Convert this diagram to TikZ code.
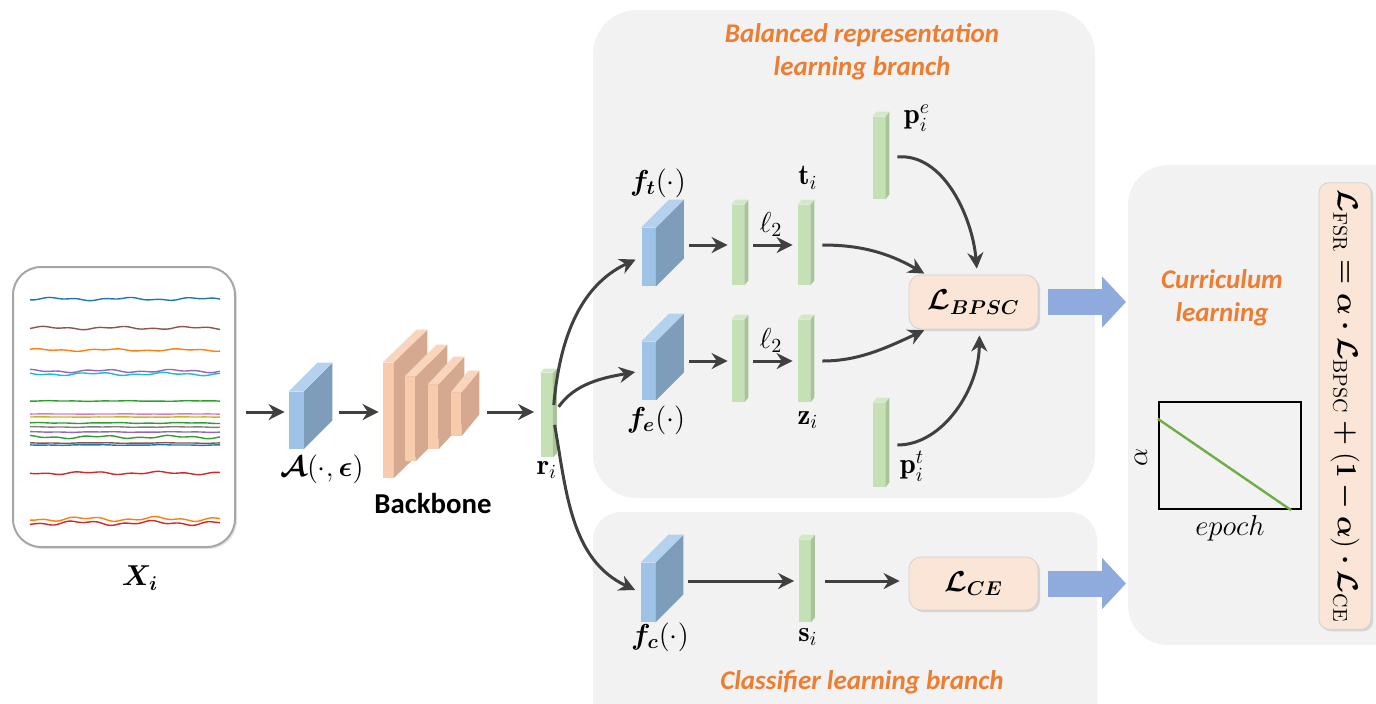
\documentclass[tikz,border=0pt]{standalone}
\usepackage{fontspec}
\setsansfont{Carlito}
\usepackage{amsmath,amssymb}
\usepackage{bm}
\usepackage{tikz}
\usetikzlibrary{positioning}
\usetikzlibrary{calc,shadows}
\usetikzlibrary{arrows.meta}
\tikzset{>=stealth}
\definecolor{arrowgray}{HTML}{404040}
\definecolor{panelgray}{HTML}{F2F2F2}
\definecolor{bluefront}{HTML}{9DC3E6}
\definecolor{blueside}{HTML}{7D9DBA}
\definecolor{bluetop}{HTML}{B4D2EE}
\definecolor{orfront}{HTML}{F8CBAD}
\definecolor{orside}{HTML}{D5A98F}
\definecolor{ortop}{HTML}{F9D5BD}
\definecolor{grfront}{HTML}{C5E0B4}
\definecolor{grside}{HTML}{A8C599}
\definecolor{grtop}{HTML}{D3E8C6}
\definecolor{lossfill}{HTML}{FBE5D6}
\definecolor{titleorange}{HTML}{ED7D31}
\definecolor{bigblue}{HTML}{8FAADC}
\definecolor{alphagreen}{HTML}{70AD47}
\definecolor{sblue}{HTML}{1F77B4}
\definecolor{sbrown}{HTML}{8C564B}
\definecolor{sorange}{HTML}{FF7F0E}
\definecolor{spurple}{HTML}{9467BD}
\definecolor{scyan}{HTML}{17BECF}
\definecolor{sgreen}{HTML}{2CA02C}
\definecolor{spink}{HTML}{E377C2}
\definecolor{solive}{HTML}{BCBD22}
\definecolor{sred}{HTML}{D62728}
\definecolor{sgray}{HTML}{7F7F7F}
% side and top faces of a 3d block: node, dx, dy, side, top
\newcommand{\blockdepth}[5]{%
  \fill[#4] (#1.north east) -- ++(#2,-#3) -- ($(#1.south east)+(#2,-#3)$) -- (#1.south east) -- cycle;
  \fill[#5] (#1.north west) -- ++(#2,-#3) -- ($(#1.north east)+(#2,-#3)$) -- (#1.north east) -- cycle;}

\begin{document}
\begin{tikzpicture}[x=0.5pt,y=-0.5pt,
  line/.style={draw=arrowgray, line width=1.5pt, -{Stealth[length=8pt,width=8pt]}},
  bigarrow/.style={draw=bigblue, line width=13pt, -{Triangle[length=12pt,width=25pt]}},
  greenbar/.style={fill=grfront, minimum width=6pt, inner sep=0pt},
  blueface/.style={fill=bluefront, minimum width=7pt, inner sep=0pt},
  orangeface/.style={fill=orfront, minimum width=5pt, inner sep=0pt},
  lossbox/.style={draw=gray!35, fill=lossfill, rounded corners=6pt, minimum width=64.5pt,
    minimum height=27pt, drop shadow={opacity=0.25,shadow xshift=1pt,shadow yshift=-1pt}},
  title/.style={text=titleorange, font=\sffamily\bfseries\itshape\fontsize{13.5}{16.5}\selectfont, align=center},
  lab/.style={font=\Large}]

\useasboundingbox (0,0) rectangle (1376,703);

%% panels
\fill[panelgray, rounded corners=22pt] (593,10) rectangle (1095,498);
\fill[panelgray, rounded corners=14pt] (593,512) rectangle (1097,730);
\fill[panelgray, rounded corners=20pt] (1128,165) rectangle (1420,645);
\coordinate (cpanelW) at (1126,300);
\coordinate (flow) at (0,412);

%% input series
\node[draw=gray!70, line width=1pt, fill=white, rounded corners=14pt, minimum width=111pt,
  minimum height=140pt, drop shadow={opacity=0.2,shadow xshift=1pt,shadow yshift=-1pt}] (xbox) at (124,407) {};
\foreach \yy/\cc/\aa/\ph in {299/sblue/1.0/0, 328/sbrown/1.0/40, 350/sorange/0.8/80,
  371/spurple/1.0/120, 374/scyan/1.0/160, 401/sgreen/0.2/10, 414/spink/0.1/30,
  417/solive/0.1/50, 423/sgreen/0.3/70, 427/sgray/0.2/90, 432/spurple/0.2/110,
  437/sgreen/1.0/130, 443/sbrown/0.2/150, 445/sblue/0.2/170, 473/sred/1.0/190,
  519/sorange/1.5/210, 523/sred/1.5/230}
  \draw[\cc, line width=0.7pt] plot[domain=30:220, samples=40, smooth]
    (\x, {\yy + \aa*(sin(\x*5+\ph) + 0.7*sin(\x*13+2*\ph))});
\node[lab] (xlab) at (140,578) {$\bm{X_i}$};

%% augmentation
\node[blueface, minimum height=28.5pt] (aface) at (296,420.5) {};
\blockdepth{aface}{29}{29}{blueside}{bluetop}
\node[lab] (alab) at (322,469) {$\bm{\mathcal{A}}(\cdot,\bm{\epsilon})$};

%% backbone
\node[orangeface, minimum height=57.5pt] (bb1) at (388,420.5) {};
\blockdepth{bb1}{34}{33}{orside}{ortop}
\node[orangeface, minimum height=42pt] (bb2) at (410,419) {};
\blockdepth{bb2}{32}{32}{orside}{ortop}
\node[orangeface, minimum height=32pt] (bb3) at (433,417) {};
\blockdepth{bb3}{26}{28}{orside}{ortop}
\node[orangeface, minimum height=21.5pt] (bb4) at (456,414.5) {};
\blockdepth{bb4}{18}{22}{orside}{ortop}
\node[font=\sffamily\bfseries\Large] (bblab) at (433,503) {Backbone};

%% representation
\node[greenbar, minimum height=42pt] (ri) at (546.5,415) {};
\blockdepth{ri}{4}{4}{grside}{grtop}
\node[lab] (rilab) at (547,470) {$\mathbf{r}_i$};

\path[line, shorten <=5pt, shorten >=2pt] (xbox.east |- flow) to (aface.west |- flow);
\path[line, shorten <=18pt, shorten >=2pt] (aface.east |- flow) to (bb1.west |- flow);
\path[line, shorten <=13pt, shorten >=3pt] (bb4.east |- flow) to (ri.west |- flow);

%% balanced branch
\node[blueface, minimum height=29pt] (ft) at (648.5,257) {};
\blockdepth{ft}{28}{28}{blueside}{bluetop}
\node[blueface, minimum height=29pt] (fe) at (648.5,371) {};
\blockdepth{fe}{28}{28}{blueside}{bluetop}
\node[lab] (ftlab) at (658,183) {$\bm{f_t}(\cdot)$};
\node[lab] (felab) at (656,420) {$\bm{f_e}(\cdot)$};

\node[greenbar, minimum height=40pt] (b1) at (738,245) {};
\blockdepth{b1}{4}{5}{grside}{grtop}
\node[greenbar, minimum height=40pt] (ti) at (804,245) {};
\blockdepth{ti}{4}{5}{grside}{grtop}
\node[greenbar, minimum height=41pt] (b2) at (738,361) {};
\blockdepth{b2}{4}{5}{grside}{grtop}
\node[greenbar, minimum height=41pt] (zi) at (804,361) {};
\blockdepth{zi}{4}{5}{grside}{grtop}
\node[greenbar, minimum height=41pt] (pe) at (879,158) {};
\blockdepth{pe}{4}{5}{grside}{grtop}
\node[greenbar, minimum height=42pt] (pt) at (879,445) {};
\blockdepth{pt}{4}{5}{grside}{grtop}
\node[lab] (tilab) at (808,178) {$\mathbf{t}_i$};
\node[lab] (zilab) at (808,420) {$\mathbf{z}_i$};
\node[lab] (pelab) at (917,118) {$\mathbf{p}_i^e$};
\node[lab] (ptlab) at (912,466) {$\mathbf{p}_i^t$};

\node[lossbox] (bpsc) at (973.5,302) {\Large$\bm{\mathcal{L}}_{\bm{BPSC}}$};

\path[line, shorten <=16.5pt, shorten >=2pt] (ft.east |- b1.west) to (b1.west);
\path[line, shorten <=4.5pt, shorten >=2.5pt] (b1.east) to node[above=0pt, lab] {$\ell_2$} (ti.west);
\path[line, shorten <=16.5pt, shorten >=2pt] (fe.east |- b2.west) to (b2.west);
\path[line, shorten <=4.5pt, shorten >=2.5pt] (b2.east) to node[above=0pt, lab] {$\ell_2$} (zi.west);
\path[line, shorten <=6pt, shorten >=1pt] (ti.east) to[out=0,in=150] (bpsc.150);
\path[line, shorten <=6pt, shorten >=1pt] (zi.east) to[out=0,in=205] (bpsc.210);
\path[line, shorten <=6pt, shorten >=3pt] (pe.east) to[out=5,in=95] (bpsc.82);
\path[line, shorten <=6pt, shorten >=3pt] (pt.east) to[out=0,in=-90] (bpsc.-78);

%% classifier branch
\node[blueface, minimum height=29.5pt] (fc) at (648,592.5) {};
\blockdepth{fc}{28}{28}{blueside}{bluetop}
\node[lab] (fclab) at (660,637) {$\bm{f_c}(\cdot)$};
\node[greenbar, minimum height=41pt] (si) at (804.5,581) {};
\blockdepth{si}{4}{5}{grside}{grtop}
\node[lab] (silab) at (808,637) {$\mathbf{s}_i$};
\node[lossbox, minimum height=26.5pt] (ce) at (973.5,583.5) {\Large$\bm{\mathcal{L}}_{\bm{CE}}$};

\path[line, shorten <=16.5pt, shorten >=2pt] (fc.east |- si.west) to (si.west);
\path[line, shorten <=7pt, shorten >=4.5pt] (si.east) to (si.east -| ce.west);

%% fan out of r_i
\path[line, shorten <=5pt, shorten >=3pt] (ri.east) to[out=85,in=205] (ft.west);
\path[line, shorten <=5pt, shorten >=3pt] (ri.east) to[out=55,in=190] (fe.west);
\path[line, shorten <=5pt, shorten >=3pt] (ri.east) to[out=-80,in=155] (fc.west);

%% to curriculum
\draw[bigarrow, shorten <=5pt] (bpsc.east) -- (bpsc.east -| cpanelW);
\draw[bigarrow, shorten <=5pt] (ce.east) -- (ce.east -| cpanelW);

%% titles
\node[title] (t1) at (862,52) {Balanced representation\\learning branch};
\node[title] (t2) at (862,682) {Classifier learning branch};
\node[title] (t3) at (1222,298) {Curriculum\\learning};

%% schedule plot
\node[draw, line width=1.2pt, minimum width=71pt, minimum height=53.5pt, inner sep=0pt] (plot) at (1230,455.5) {};
\coordinate (astart) at ($(plot.north west)+(0,18)$);
\coordinate (aend) at ($(plot.south east)+(-11,0)$);
\draw[alphagreen, line width=1.2pt] (astart) -- (aend);
\node[lab, rotate=90] (alpha) at (1141,457) {$\alpha$};
\node[lab] (epoch) at (1230,528) {$epoch$};

%% total loss
\node[rotate=-90, fill=lossfill, draw=gray!35, rounded corners=5pt, minimum width=219pt,
  minimum height=26pt, drop shadow={opacity=0.25,shadow xshift=1pt,shadow yshift=-1pt}] (fsr) at (1345,406)
  {\Large$\bm{\mathcal{L}}_{\mathrm{FSR}} \bm{=} \bm{\alpha}\bm{\cdot}\bm{\mathcal{L}}_{\mathrm{BPSC}} \bm{+} (\mathbf{1}\bm{-}\bm{\alpha})\bm{\cdot}\bm{\mathcal{L}}_{\mathrm{CE}}$};
\end{tikzpicture}
\end{document}
